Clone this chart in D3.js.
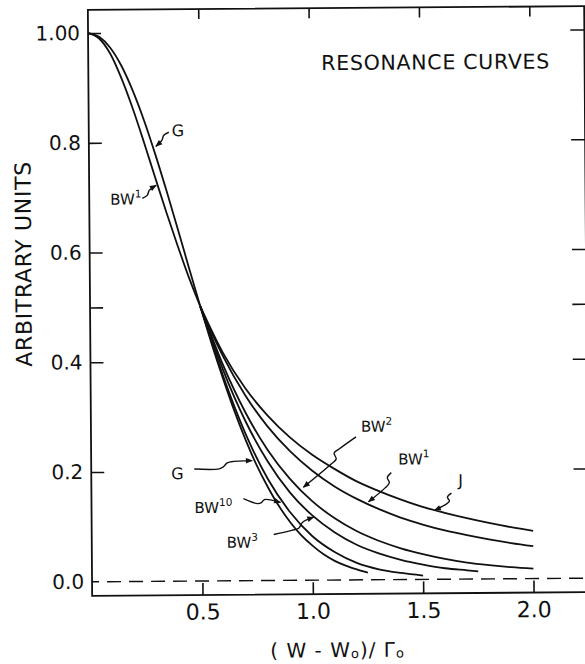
<!DOCTYPE html>
<html>
<head>
<meta charset="utf-8">
<script src="https://cdn.jsdelivr.net/npm/d3@7"></script>
<style>
  html, body { margin: 0; padding: 0; background: #fff; }
  svg { display: block; }
  text { font-family: "DejaVu Sans", sans-serif; fill: #111; }
</style>
</head>
<body>
<svg id="chart" width="585" height="664"></svg>
<script>
// ---- Resonance curve samples, (W - W0)/Gamma0 vs. arbitrary units ----
const gX    = [0, 0.05, 0.1, 0.15, 0.2, 0.25, 0.3, 0.35, 0.4, 0.45, 0.5, 0.55, 0.6, 0.65, 0.7, 0.75, 0.8, 0.85, 0.9, 0.95, 1.0, 1.05, 1.1, 1.15, 1.2, 1.25];
const gY    = [1.000, 0.993, 0.973, 0.940, 0.895, 0.841, 0.779, 0.712, 0.642, 0.570, 0.500, 0.432, 0.369, 0.310, 0.257, 0.210, 0.170, 0.135, 0.106, 0.082, 0.063, 0.047, 0.035, 0.026, 0.019, 0.013];

const bw1X  = [0, 0.05, 0.1, 0.15, 0.2, 0.25, 0.3, 0.35, 0.4, 0.45, 0.5, 0.6, 0.7, 0.8, 0.9, 1.0, 1.1, 1.2, 1.3, 1.4, 1.5, 1.6, 1.7, 1.8, 1.9, 2.0];
const bw1Y  = [1.000, 0.990, 0.962, 0.917, 0.862, 0.800, 0.735, 0.671, 0.610, 0.552, 0.500, 0.410, 0.338, 0.281, 0.236, 0.200, 0.171, 0.148, 0.129, 0.113, 0.100, 0.089, 0.080, 0.072, 0.065, 0.059];

const jX    = [0.5, 0.6, 0.7, 0.8, 0.9, 1.0, 1.1, 1.2, 1.3, 1.4, 1.5, 1.6, 1.7, 1.8, 1.9, 2.0];
const jY    = [0.500, 0.416, 0.351, 0.301, 0.261, 0.229, 0.203, 0.180, 0.162, 0.146, 0.132, 0.121, 0.111, 0.102, 0.094, 0.087];

const bw2X  = [0.5, 0.6, 0.7, 0.8, 0.9, 1.0, 1.1, 1.2, 1.3, 1.4, 1.5, 1.6, 1.7, 1.8, 1.9, 2.0];
const bw2Y  = [0.500, 0.394, 0.307, 0.238, 0.185, 0.144, 0.113, 0.089, 0.071, 0.057, 0.046, 0.037, 0.030, 0.025, 0.021, 0.018];

const bw3X  = [0.5, 0.6, 0.7, 0.8, 0.9, 1.0, 1.1, 1.2, 1.3, 1.4, 1.5, 1.6, 1.7, 1.75];
const bw3Y  = [0.500, 0.385, 0.291, 0.217, 0.160, 0.118, 0.087, 0.064, 0.048, 0.036, 0.027, 0.020, 0.016, 0.014];

const bw10X = [0.5, 0.6, 0.7, 0.8, 0.9, 1.0, 1.1, 1.2, 1.3, 1.4, 1.5];
const bw10Y = [0.500, 0.374, 0.268, 0.185, 0.124, 0.080, 0.051, 0.031, 0.019, 0.012, 0.007];

// ---- Axis ticks ----
const yTickValues = [1.0, 0.8, 0.6, 0.5, 0.4, 0.2, 0.0];
const yTickLabels = ["1.00", "0.8", "0.6", "", "0.4", "0.2", "0.0"];
const xTickValues = [0.5, 1.0, 1.5, 2.0];
const xTickLabels = ["0.5", "1.0", "1.5", "2.0"];

// ---- Curve labels (name, superscript, anchor in data units) ----
const labelNames = ["G", "BW", "G", "BW", "BW", "BW", "BW", "J"];
const labelSups  = ["", "1", "", "10", "3", "2", "1", ""];
const labelX     = [0.376, 0.095, 0.3625, 0.4667, 0.6117, 1.2234, 1.3910, 1.6629];
const labelY     = [0.811, 0.687, 0.1859, 0.1239, 0.0601, 0.2697, 0.2096, 0.1695];

// ---- Pointer arrows, from label to curve (data units) ----
const arrowPaths = [
  [[0.3625, 0.8182], [0.3398, 0.8128], [0.3308, 0.8036], [0.3036, 0.7927]],
  [[0.2401, 0.6980], [0.2628, 0.7034], [0.2719, 0.7125], [0.3036, 0.7216]],
  [[0.4667, 0.2041], [0.5800, 0.2041], [0.5981, 0.2077], [0.6162, 0.2150], [0.6343, 0.2169], [0.7295, 0.2187]],
  [[0.6887, 0.1494], [0.7522, 0.1403], [0.7703, 0.1421], [0.7839, 0.1476], [0.8564, 0.1421]],
  [[0.8247, 0.0838], [0.9062, 0.0911], [0.9379, 0.0948], [0.9561, 0.1057], [1.0059, 0.1148]],
  [[1.2007, 0.2606], [1.1237, 0.2387], [1.1010, 0.2314], [1.1101, 0.2205], [1.0875, 0.2114], [0.9606, 0.1695]],
  [[1.3593, 0.1950], [1.3412, 0.1859], [1.3503, 0.1768], [1.3321, 0.1677], [1.2551, 0.1421]],
  [[1.6312, 0.1567], [1.6130, 0.1494], [1.6221, 0.1421], [1.5995, 0.1349], [1.5541, 0.1257]]
];

const titleText = "RESONANCE CURVES";
const titleX = 1.0557, titleY = 0.9294;

// ---- Layout ----
const svg = d3.select("#chart");
const xScale = d3.scaleLinear().domain([0, 2.2487]).range([90, 586.3]);
const yScale = d3.scaleLinear().domain([-0.0255, 1.0424]).range([594, 8]);
const ink = "#111";

const defs = svg.append("defs");
defs.append("marker")
  .attr("id", "arrowhead")
  .attr("viewBox", "0 0 10 10")
  .attr("refX", 9).attr("refY", 5)
  .attr("markerWidth", 8).attr("markerHeight", 7)
  .attr("markerUnits", "userSpaceOnUse")
  .attr("orient", "auto")
  .append("path")
  .attr("d", "M0,1 L10,5 L0,9 Z")
  .attr("fill", ink);

// the drawing sits very slightly turned, as on the printed sheet
const g = svg.append("g").attr("transform", "rotate(-0.42 337 300)");

const [x0, x1] = xScale.range();
const [y0, y1] = yScale.range();

// frame
g.append("rect")
  .attr("x", x0).attr("y", y1)
  .attr("width", x1 - x0).attr("height", y0 - y1)
  .attr("fill", "none").attr("stroke", ink).attr("stroke-width", 1.8);

// zero level
g.append("line")
  .attr("x1", xScale(0)).attr("x2", x1)
  .attr("y1", yScale(0)).attr("y2", yScale(0))
  .attr("stroke", ink).attr("stroke-width", 1.4)
  .attr("stroke-dasharray", "14,8").attr("stroke-dashoffset", 7);

function styleAxis(sel, size) {
  sel.select(".domain").remove();
  sel.selectAll(".tick line").attr("stroke", ink).attr("stroke-width", 1.6);
  sel.attr("font-family", "DejaVu Sans").attr("font-size", size);
  sel.selectAll(".tick text").attr("fill", ink);
}

const leftAxis = g.append("g")
  .attr("transform", `translate(${x0},0)`)
  .call(d3.axisLeft(yScale).tickValues(yTickValues).tickSize(-13).tickPadding(8)
    .tickFormat((d, i) => yTickLabels[i]));
styleAxis(leftAxis, 20);
leftAxis.selectAll(".tick").filter(d => d === 0).select("line").remove();

const rightAxis = g.append("g")
  .attr("transform", `translate(${x1},0)`)
  .call(d3.axisRight(yScale).tickValues(yTickValues.filter(d => d > 0)).tickSize(-14).tickFormat(""));
styleAxis(rightAxis, 20);

const topAxis = g.append("g")
  .attr("transform", `translate(0,${y1})`)
  .call(d3.axisTop(xScale).tickValues(xTickValues).tickSize(-10).tickFormat(""));
styleAxis(topAxis, 20);

const bottomAxis = g.append("g")
  .attr("transform", `translate(0,${y0})`)
  .call(d3.axisBottom(xScale).tickValues(xTickValues).tickSize(-12).tickPadding(9)
    .tickFormat((d, i) => xTickLabels[i]));
styleAxis(bottomAxis, 22);

// curves
const zip = (xs, ys) => xs.map((x, i) => [x, ys[i]]);
const curveLine = d3.line()
  .x(d => xScale(d[0])).y(d => yScale(d[1]))
  .curve(d3.curveMonotoneX);

const series = [
  zip(gX, gY), zip(bw1X, bw1Y), zip(jX, jY),
  zip(bw2X, bw2Y), zip(bw3X, bw3Y), zip(bw10X, bw10Y)
];
g.append("g").selectAll("path")
  .data(series).join("path")
  .attr("d", curveLine)
  .attr("fill", "none").attr("stroke", ink)
  .attr("stroke-width", 1.8).attr("stroke-linejoin", "round");

// pointer arrows
const arrowLine = d3.line()
  .x(d => xScale(d[0])).y(d => yScale(d[1]))
  .curve(d3.curveCatmullRom.alpha(0.5));
g.append("g").selectAll("path")
  .data(arrowPaths).join("path")
  .attr("d", arrowLine)
  .attr("fill", "none").attr("stroke", ink)
  .attr("stroke-width", 1.4)
  .attr("marker-end", "url(#arrowhead)");

// curve labels
const labels = g.append("g").selectAll("text")
  .data(labelNames).join("text")
  .attr("x", (d, i) => xScale(labelX[i]))
  .attr("y", (d, i) => yScale(labelY[i]))
  .attr("font-size", d => d === "BW" ? 15 : 16);
labels.append("tspan").text(d => d);
labels.append("tspan")
  .attr("font-size", 10.5).attr("dy", -7)
  .text((d, i) => labelSups[i]);

// inset title
g.append("text")
  .attr("x", xScale(titleX)).attr("y", yScale(titleY))
  .attr("font-size", 20.5)
  .attr("textLength", 228).attr("lengthAdjust", "spacing")
  .text(titleText);

// axis titles
g.append("text")
  .attr("transform", "translate(31.5,262) rotate(-90)")
  .attr("text-anchor", "middle")
  .attr("font-size", 22)
  .attr("textLength", 205).attr("lengthAdjust", "spacing")
  .text("ARBITRARY UNITS");

const xTitle = g.append("text")
  .attr("x", 335).attr("y", 657)
  .attr("text-anchor", "middle")
  .attr("font-size", 20)
  .attr("letter-spacing", 1);
xTitle.append("tspan").text("( W - W");
xTitle.append("tspan").attr("font-size", 13).attr("dy", 1).text("o");
xTitle.append("tspan").attr("dy", -1).text(")/ Γ");
xTitle.append("tspan").attr("font-size", 13).attr("dy", 1).text("o");
</script>
</body>
</html>
